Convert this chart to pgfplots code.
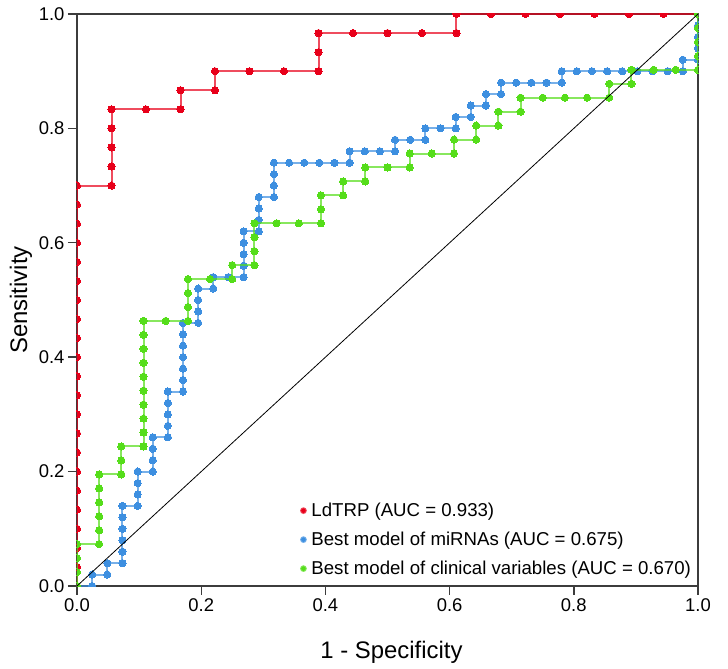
\documentclass[border=0pt]{standalone}
\usepackage{fontspec}
\setmainfont{Liberation Sans}
\usepackage{pgfplots}
\pgfplotsset{compat=1.18}

\definecolor{cRed}{RGB}{232,0,26}
\definecolor{cBlue}{RGB}{61,143,224}
\definecolor{cGreen}{RGB}{85,221,26}
\definecolor{frame}{RGB}{60,60,60}

\pgfplotsset{
  roc/.style={
    color=#1, line width=2bp, draw opacity=0.7,
    mark=*, mark size=3.6bp,
    mark options={solid, draw opacity=1, fill=#1, line width=0pt},
  },
}

\begin{document}
\begin{tikzpicture}
\begin{axis}[
  scale only axis,
  width=621bp, height=572bp,
  xmin=0, xmax=1, ymin=0, ymax=1,
  xtick={0,0.2,0.4,0.6,0.8,1},
  ytick={0,0.2,0.4,0.6,0.8,1},
  /pgf/number format/assume math mode=true,
  /pgf/number format/.cd, fixed, fixed zerofill, precision=1, /pgfplots/.cd,
  tick align=outside, tick pos=left,
  major tick length=9bp,
  axis line style={draw=frame, line width=1.4bp},
  every tick/.style={draw=frame, line width=1.4bp},
  tick label style={font=\fontsize{18.5}{20}\selectfont},
  xlabel={1 - Specificity},
  ylabel={Sensitivity},
  label style={font=\fontsize{24}{28}\selectfont},
  xlabel style={at={(rel axis cs:0.5,0)}, anchor=base, yshift=-72bp, xshift=4bp},
  ylabel style={at={(rel axis cs:0,0.5)}, anchor=center, yshift=56bp},
  clip marker paths=true,
  legend cell align=left,
  legend style={draw=none, fill=none, at={(rel axis cs:0.997,0.010)},
    anchor=south east, font=\fontsize{18.7}{20}\selectfont, row sep=10bp},
  legend image code/.code={\fill[#1] (0bp,0bp) circle (2.3bp); \path (-2.3bp,0bp) (5bp,0bp);},
]
% LdTRP: 18 negatives, 30 positives
\addplot[roc=cRed] coordinates {
(0,0) (0,0.0333) (0,0.0667) (0,0.1) (0,0.1333) (0,0.1667) (0,0.2) (0,0.2333)
(0,0.2667) (0,0.3) (0,0.3333) (0,0.3667) (0,0.4) (0,0.4333) (0,0.4667) (0,0.5)
(0,0.5333) (0,0.5667) (0,0.6) (0,0.6333) (0,0.6667) (0,0.7)
(0.0556,0.7) (0.0556,0.7333) (0.0556,0.7667) (0.0556,0.8) (0.0556,0.8333)
(0.1111,0.8333) (0.1667,0.8333) (0.1667,0.8667)
(0.2222,0.8667) (0.2222,0.9)
(0.2778,0.9) (0.3333,0.9) (0.3889,0.9) (0.3889,0.9333) (0.3889,0.9667)
(0.4444,0.9667) (0.5,0.9667) (0.5556,0.9667) (0.6111,0.9667) (0.6111,1)
(0.6667,1) (0.7222,1) (0.7778,1) (0.8333,1) (0.8889,1) (0.9444,1) (1,1)
};
\addlegendentry{LdTRP (AUC = 0.933)}
% miRNA model: 41 negatives, 50 positives
\addplot[roc=cBlue] coordinates {
(0,0) (0.0244,0) (0.0244,0.02)
(0.0488,0.02) (0.0488,0.04)
(0.0732,0.04) (0.0732,0.06) (0.0732,0.08) (0.0732,0.10) (0.0732,0.12) (0.0732,0.14)
(0.0976,0.14) (0.0976,0.16) (0.0976,0.18) (0.0976,0.20)
(0.1220,0.20) (0.1220,0.22) (0.1220,0.24) (0.1220,0.26)
(0.1463,0.26) (0.1463,0.28) (0.1463,0.30) (0.1463,0.32) (0.1463,0.34)
(0.1707,0.34) (0.1707,0.36) (0.1707,0.38) (0.1707,0.40) (0.1707,0.42) (0.1707,0.44) (0.1707,0.46)
(0.1951,0.46) (0.1951,0.48) (0.1951,0.50) (0.1951,0.52)
(0.2195,0.52) (0.2195,0.54)
(0.2439,0.54) (0.2683,0.54) (0.2683,0.56) (0.2683,0.58) (0.2683,0.60) (0.2683,0.62)
(0.2927,0.62) (0.2927,0.64) (0.2927,0.66) (0.2927,0.68)
(0.3171,0.68) (0.3171,0.70) (0.3171,0.72) (0.3171,0.74)
(0.3415,0.74) (0.3659,0.74) (0.3902,0.74) (0.4146,0.74) (0.4390,0.74) (0.4390,0.76)
(0.4634,0.76) (0.4878,0.76) (0.5122,0.76) (0.5122,0.78)
(0.5366,0.78) (0.5610,0.78) (0.5610,0.80)
(0.5854,0.80) (0.6098,0.80) (0.6098,0.82)
(0.6341,0.82) (0.6341,0.84)
(0.6585,0.84) (0.6585,0.86)
(0.6829,0.86) (0.6829,0.88)
(0.7073,0.88) (0.7317,0.88) (0.7561,0.88) (0.7805,0.88) (0.7805,0.90)
(0.8049,0.90) (0.8293,0.90) (0.8537,0.90) (0.8780,0.90) (0.9024,0.90)
(0.9268,0.90) (0.9512,0.90) (0.9756,0.90) (0.9756,0.92)
(1,0.92) (1,0.94) (1,0.96) (1,0.98) (1,1)
};
\addlegendentry{Best model of miRNAs (AUC = 0.675)}
% clinical model: 28 negatives, 41 positives
\addplot[roc=cGreen] coordinates {
(0,0) (0,0.0244) (0,0.0488) (0,0.0732)
(0.0357,0.0732) (0.0357,0.0976) (0.0357,0.1220) (0.0357,0.1463) (0.0357,0.1707) (0.0357,0.1951)
(0.0714,0.1951) (0.0714,0.2195) (0.0714,0.2439)
(0.1071,0.2439) (0.1071,0.2683) (0.1071,0.2927) (0.1071,0.3171) (0.1071,0.3415)
(0.1071,0.3659) (0.1071,0.3902) (0.1071,0.4146) (0.1071,0.4390) (0.1071,0.4634)
(0.1429,0.4634) (0.1786,0.4634) (0.1786,0.4878) (0.1786,0.5122) (0.1786,0.5366)
(0.2143,0.5366) (0.25,0.5366) (0.25,0.5610)
(0.2857,0.5610) (0.2857,0.5854) (0.2857,0.6098) (0.2857,0.6341)
(0.3214,0.6341) (0.3571,0.6341) (0.3929,0.6341) (0.3929,0.6585) (0.3929,0.6829)
(0.4286,0.6829) (0.4286,0.7073)
(0.4643,0.7073) (0.4643,0.7317)
(0.5,0.7317) (0.5357,0.7317) (0.5357,0.7561)
(0.5714,0.7561) (0.6071,0.7561) (0.6071,0.7805)
(0.6429,0.7805) (0.6429,0.8049)
(0.6786,0.8049) (0.6786,0.8293)
(0.7143,0.8293) (0.7143,0.8537)
(0.75,0.8537) (0.7857,0.8537) (0.8214,0.8537) (0.8571,0.8537) (0.8571,0.8780)
(0.8929,0.8780) (0.8929,0.9024)
(0.9286,0.9024) (0.9643,0.9024) (1,0.9024) (1,0.9268) (1,0.9512) (1,0.9756) (1,1)
};
\addlegendentry{Best model of clinical variables (AUC = 0.670)}
% reference diagonal
\addplot[black, line width=0.8bp, forget plot] coordinates {(0,0) (1,1)};
\end{axis}
\pgfresetboundingbox
\path ([shift={(-77bp,-83bp)}]current axis.south west)
  rectangle ([shift={(30bp,14bp)}]current axis.north east);
\end{tikzpicture}
\end{document}
